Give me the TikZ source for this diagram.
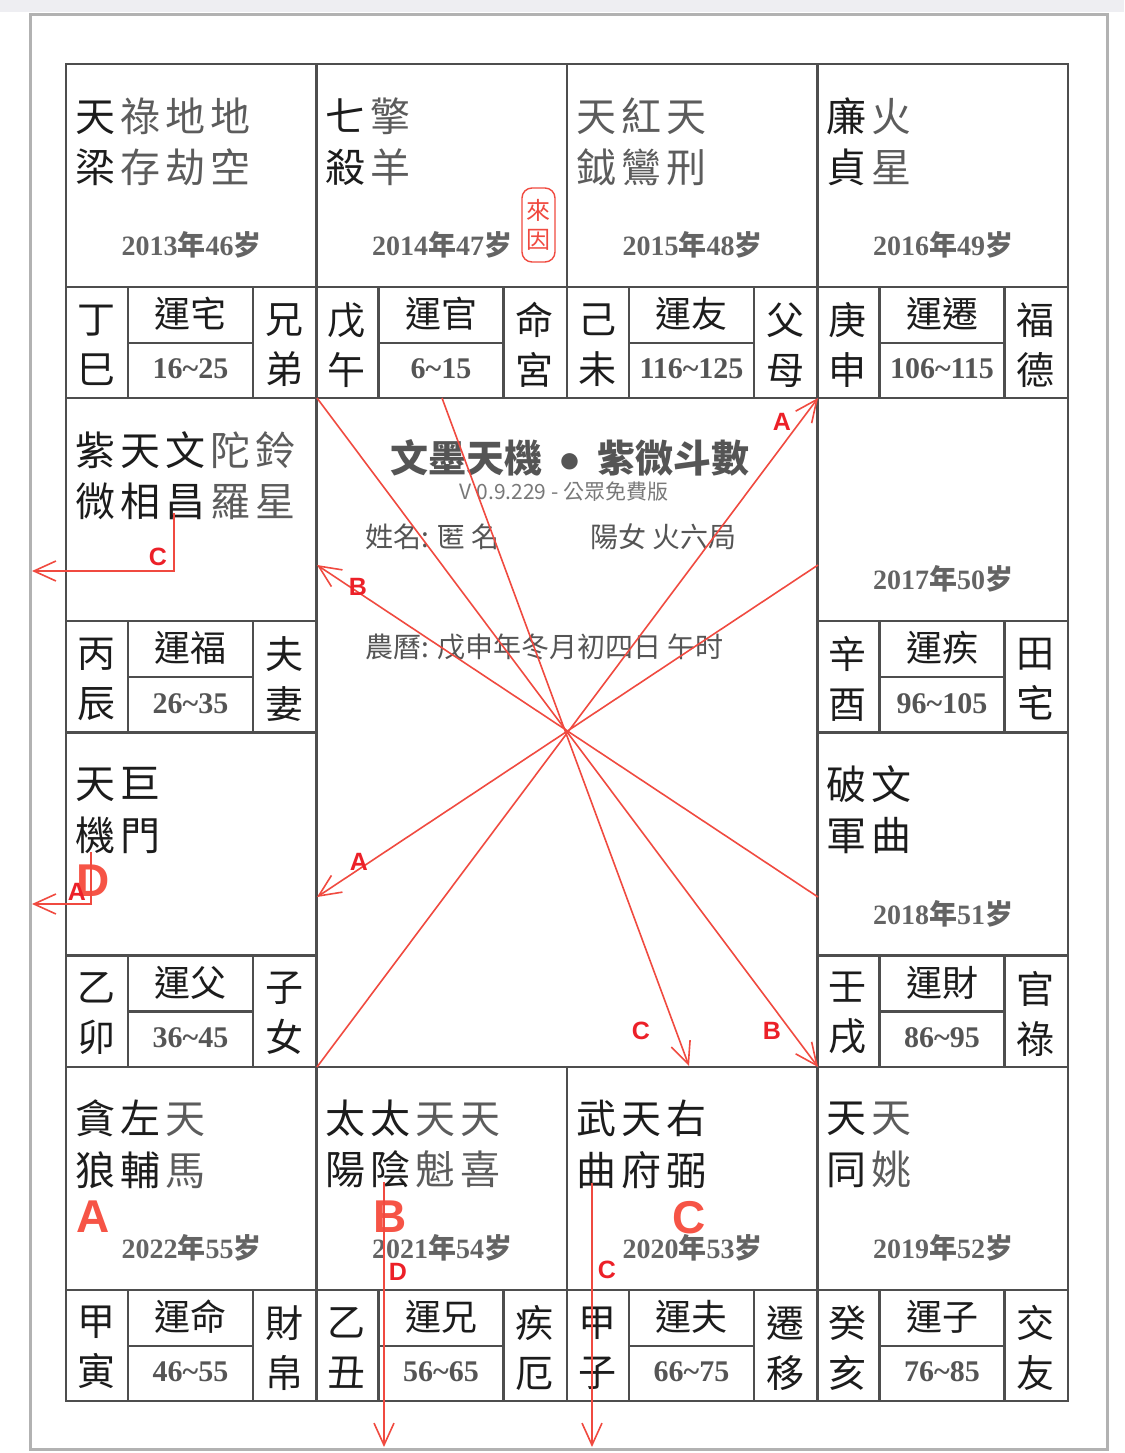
\documentclass[tikz,border=0pt]{standalone}
\usepackage{fontspec}
\usetikzlibrary{arrows.meta,positioning}
\newfontfamily\cjk{Noto Sans CJK TC}
\newfontfamily\numfont{Liberation Serif}
\newfontfamily\markfont{Liberation Sans}
\definecolor{gridG}{RGB}{78,78,78}
\definecolor{starK}{RGB}{28,28,28}
\definecolor{starG}{RGB}{92,92,92}
\definecolor{yearG}{RGB}{100,100,100}
\definecolor{titleG}{RGB}{85,85,85}
\definecolor{verG}{RGB}{120,120,120}
\definecolor{flyRed}{RGB}{240,74,64}
\definecolor{markRed}{RGB}{236,32,40}
\definecolor{bigRed}{RGB}{246,84,70}
\definecolor{frameG}{RGB}{178,178,178}
\definecolor{bandG}{RGB}{238,238,242}
% one star character, main (dark) or minor (grey), with the chart's letter gap
\newcommand{\mj}[1]{\textcolor{starK}{#1}\kern5pt}
\newcommand{\mn}[1]{\textcolor{starG}{#1}\kern5pt}
\newcommand{\yrtxt}[2]{{\numfont\bfseries #1}{\cjk\bfseries 年}{\numfont\bfseries #2}{\cjk\bfseries 岁}}
\newcommand{\agerange}[2]{{\numfont\bfseries #1\textasciitilde #2}}

\begin{document}
\begin{tikzpicture}[x=1pt,y=-1pt,
  boxln/.style={draw=gridG, line width=2.4pt},
  starline/.style={anchor=west, inner sep=0pt, font=\cjk\fontsize{40}{50}\selectfont},
  yeartxt/.style={inner sep=0pt, text=yearG, font=\fontsize{28}{30}\selectfont},
  vchar/.style={inner sep=0pt, align=center, text=starK, font=\cjk\fontsize{38}{50}\selectfont},
  yunlbl/.style={inner sep=0pt, text=starK, font=\cjk\fontsize{36}{40}\selectfont},
  rangetxt/.style={inner sep=0pt, text=titleG, font=\fontsize{30}{32}\selectfont},
  centertxt/.style={inner sep=0pt, text=titleG, font=\cjk\fontsize{28}{32}\selectfont},
  fly/.style={draw=flyRed, line width=1.6pt, -{Straight Barb[length=22pt,width=20pt]}},
  smallmark/.style={inner sep=0pt, text=markRed, font=\markfont\bfseries\fontsize{25}{26}\selectfont},
  bigmark/.style={inner sep=0pt, text=bigRed, font=\markfont\bfseries\fontsize{46}{46}\selectfont}]
  % page frame
  \useasboundingbox (0,0) rectangle (1124,1453);
  \fill[white] (0,0) rectangle (1124,1453);
  \fill[bandG] (0,0) rectangle (1124,12);
  \draw[frameG, line width=3pt] (30,14.5) rectangle (1107.5,1449);
  % the twelve palaces: stars, year, stem/branch, decade, palace name
  \foreach \cx/\cy/\sa/\sb/\yr/\gz/\yun/\rg/\pal/\nm in {
    0/0/{\mj{天}\mn{祿}\mn{地}\mn{地}}/{\mj{梁}\mn{存}\mn{劫}\mn{空}}/{\yrtxt{2013}{46}}/{丁\\巳}/運宅/{\agerange{16}{25}}/{兄\\弟}/si,
    1/0/{\mj{七}\mn{擎}}/{\mj{殺}\mn{羊}}/{\yrtxt{2014}{47}}/{戊\\午}/運官/{\agerange{6}{15}}/{命\\宮}/wu,
    2/0/{\mn{天}\mn{紅}\mn{天}}/{\mn{鉞}\mn{鸞}\mn{刑}}/{\yrtxt{2015}{48}}/{己\\未}/運友/{\agerange{116}{125}}/{父\\母}/wei,
    3/0/{\mj{廉}\mn{火}}/{\mj{貞}\mn{星}}/{\yrtxt{2016}{49}}/{庚\\申}/運遷/{\agerange{106}{115}}/{福\\德}/shen,
    3/1/{}/{}/{\yrtxt{2017}{50}}/{辛\\酉}/運疾/{\agerange{96}{105}}/{田\\宅}/you,
    3/2/{\mj{破}\mj{文}}/{\mj{軍}\mj{曲}}/{\yrtxt{2018}{51}}/{壬\\戌}/運財/{\agerange{86}{95}}/{官\\祿}/xu,
    3/3/{\mj{天}\mn{天}}/{\mj{同}\mn{姚}}/{\yrtxt{2019}{52}}/{癸\\亥}/運子/{\agerange{76}{85}}/{交\\友}/hai,
    2/3/{\mj{武}\mj{天}\mj{右}}/{\mj{曲}\mj{府}\mj{弼}}/{\yrtxt{2020}{53}}/{甲\\子}/運夫/{\agerange{66}{75}}/{遷\\移}/zi,
    1/3/{\mj{太}\mj{太}\mn{天}\mn{天}}/{\mj{陽}\mj{陰}\mn{魁}\mn{喜}}/{\yrtxt{2021}{54}}/{乙\\丑}/運兄/{\agerange{56}{65}}/{疾\\厄}/chou,
    0/3/{\mj{貪}\mj{左}\mn{天}}/{\mj{狼}\mj{輔}\mn{馬}}/{\yrtxt{2022}{55}}/{甲\\寅}/運命/{\agerange{46}{55}}/{財\\帛}/yin,
    0/2/{\mj{天}\mj{巨}}/{\mj{機}\mj{門}}/{}/{乙\\卯}/運父/{\agerange{36}{45}}/{子\\女}/mao,
    0/1/{\mj{紫}\mj{天}\mj{文}\mn{陀}\mn{鈴}}/{\mj{微}\mj{相}\mj{昌}\mn{羅}\mn{星}}/{}/{丙\\辰}/運福/{\agerange{26}{35}}/{夫\\妻}/chen%
  }{
    \pgfmathsetmacro{\lx}{66+250.5*\cx}
    \pgfmathsetmacro{\ty}{64+334.25*\cy}
    \pgfmathsetmacro{\by}{\ty+223}
    \draw[boxln] (\lx,\ty) rectangle ++(250.5,334.25);
    \draw[boxln] (\lx,\by) -- ++(250.5,0)
      (\lx+62,\by) -- ++(0,111.25) (\lx+187,\by) -- ++(0,111.25)
      (\lx+62,\by+56) -- ++(125,0);
    \node[starline] (sa-\nm) at (\lx+9,\ty+52) {\sa};
    \node[starline] (sb-\nm) at (\lx+9,\ty+103) {\sb};
    \node[yeartxt] (yr-\nm) at (\lx+125.5,\by-42) {\yr};
    \node[vchar] (gz-\nm) at (\lx+30,\by+58) {\gz};
    \node[yunlbl] (yun-\nm) at (\lx+124.5,\by+27) {\yun};
    \node[rangetxt] (rg-\nm) at (\lx+124.5,\by+82) {\rg};
    \node[vchar] (pal-\nm) at (\lx+218,\by+58) {\pal};
  }
  % source badge in the life palace
  \node[draw=flyRed, rounded corners=10pt, line width=1.4pt, minimum width=33pt,
    minimum height=74pt, inner sep=0pt, align=center, text=flyRed,
    font=\cjk\fontsize{24}{29}\selectfont] (laiyin) at (538.5,225) {來\\因};
  % centre block
  \node[centertxt, font=\cjk\bfseries\fontsize{38}{40}\selectfont] (title) at (570,458)
    {文墨天機\hspace{16pt}{\markfont ●}\hspace{16pt}紫微斗數};
  \node[centertxt, text=verG, font=\cjk\fontsize{21}{24}\selectfont] (ver) at (564,492) {V 0.9.229 - 公眾免費版};
  \node[centertxt, anchor=west] (name) at (365,537) {姓名: 匿 名};
  \node[centertxt, anchor=west] (ju) at (590,537) {陽女 火六局};
  \node[centertxt, anchor=west] (lunar) at (365,647) {農曆: 戊申年冬月初四日 午时};
  % big transformation marks
  \node[bigmark] (bigA) at (93,1217) {A};
  \node[bigmark] (bigB) at (390,1217) {B};
  \node[bigmark] (bigC) at (689,1218) {C};
  \node[bigmark] (bigD) at (93,881) {D};
  % flying lines across the centre
  \coordinate (cNW) at (317,398);
  \coordinate (cNE) at (818,398);
  \coordinate (cSW) at (317,1067);
  \coordinate (cSE) at (818,1067);
  \coordinate (wuMid) at (442,398);
  \coordinate (ziMid) at (689,1066);
  \coordinate (youMid) at (818,565);
  \coordinate (xuMid) at (818,897);
  \coordinate (chenMid) at (317,565);
  \coordinate (maoMid) at (317,897);
  \draw[fly] (cNW) -- (cSE);
  \draw[fly] (cSW) -- (cNE);
  \draw[fly] (wuMid) -- (ziMid);
  \draw[fly] (youMid) -- (maoMid);
  \draw[fly] (xuMid) -- (chenMid);
  \node[smallmark] (aNE) at (782,422) {A};
  \node[smallmark] (bW) at (358,587) {B};
  \node[smallmark] (aW) at (359,862) {A};
  \node[smallmark] (cS) at (641,1031) {C};
  \node[smallmark] (bSE) at (772,1031) {B};
  % self transformations leaving the chart
  \coordinate (changT) at (174,513);
  \coordinate (changE) at (32,571);
  \coordinate (menT) at (91,852);
  \coordinate (menE) at (32,904);
  \coordinate (yinT) at (384,1182);
  \coordinate (yinE) at (384,1447);
  \coordinate (biT) at (592,1183);
  \coordinate (biE) at (592,1447);
  \draw[fly] (changT) |- (changE);
  \draw[fly] (menT) |- (menE);
  \draw[fly] (yinT) -- (yinE);
  \draw[fly] (biT) -- (biE);
  \node[smallmark] (cChang) at (158,557) {C};
  \node[smallmark] (aMen) at (77,892) {A};
  \node[smallmark] (dYin) at (398,1272) {D};
  \node[smallmark] (cBi) at (607,1270) {C};
\end{tikzpicture}
\end{document}
